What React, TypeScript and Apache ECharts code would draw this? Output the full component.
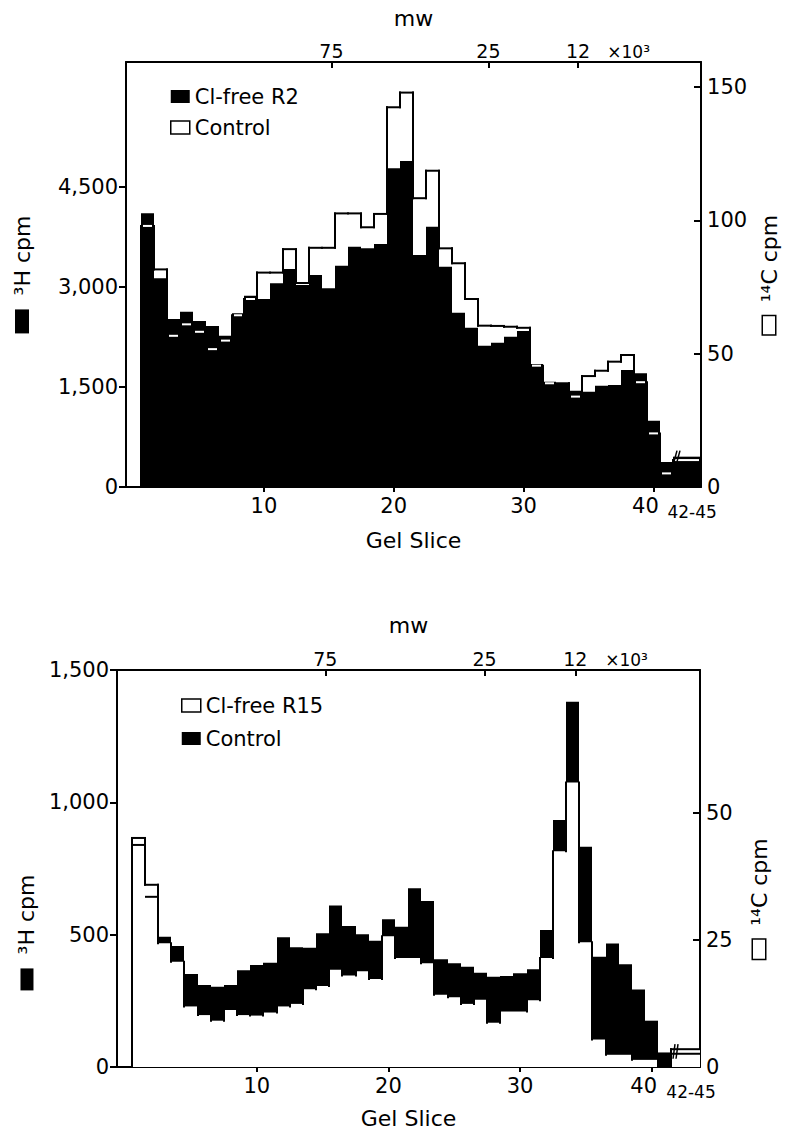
import React, { useEffect, useRef } from 'react';
import * as echarts from 'echarts';

const FONT = "'DejaVu Sans', 'Liberation Sans', sans-serif";

// ---- categories ----
const sliceLabels = ['1','2','3','4','5','6','7','8','9','10','11','12','13','14','15','16','17','18','19','20','21','22','23','24','25','26','27','28','29','30','31','32','33','34','35','36','37','38','39','40','41','42-45'];
const pooledLabel = '42-45';

// ---- top panel: Cl-free R2 (3H, black) vs Control (14C, outline) ----
const topClFreeR2_3H = [4105,3130,2520,2630,2490,2415,2270,2605,2870,2820,3055,3270,3030,3180,2980,3320,3605,3580,3645,4780,4890,3480,3905,3305,2615,2390,2120,2165,2255,2340,1845,1580,1545,1445,1430,1520,1530,1755,1705,995,375,455];
const topControl_14C = [97.9,81.6,56.7,61.0,58.2,51.7,54.9,64.4,70.5,80.4,80.4,89.2,76.5,89.7,89.7,102.6,102.6,97.4,102.4,142.4,147.9,108.3,118.6,89.5,83.9,70.5,60.5,60.4,60.1,59.7,45.5,38.9,38.9,33.9,41.6,43.6,47.0,49.5,39.3,20.1,5.1,10.1];

// ---- bottom panel: Cl-free R15 (14C, white) vs Control (3H, black) ----
const botControl_3H = [839,643,492,457,351,310,303,310,366,385,394,490,452,451,505,610,533,502,477,558,530,675,627,407,392,379,356,341,344,354,369,518,933,1380,832,417,467,388,293,175,55,50];
const botClFreeR15_14C = [45.0,35.8,24.3,20.7,11.9,10.2,9.1,11.2,10.2,10.1,10.7,11.9,12.4,15.3,15.9,19.1,18.0,18.8,17.3,25.7,21.4,21.4,20.4,14.2,13.7,12.4,13.2,8.7,10.9,10.9,13.1,21.4,42.4,55.9,24.5,5.4,2.4,2.4,1.4,1.4,0,3.5];

// ---- tick labels ----
const gelTicks = [10, 20, 30, 40];
const gelLabelPos = [10, 20, 30, 39.4];
const gelLabels = ['10', '20', '30', '40'];
const pooledLabelPos = 43.0;
const mwTicks = [15.2, 27.3, 34.2];
const mwLabels = ['75', '25', '12'];
const mwUnit = '×10³';
const mwUnitPos = 38.1;
const topLeftTicks = [0, 1500, 3000, 4500];
const topRightTicks = [0, 50, 100, 150];
const botLeftTicks = [0, 500, 1000, 1500];
const botRightTicks = [0, 25, 50];

const X_MIN = -0.63;
const X_MAX = 43.68;
const TOP_LEFT_MAX = 6375;
const TOP_RIGHT_MAX = 159.375;
const BOT_LEFT_MAX = 1500;
const BOT_RIGHT_MAX = 78;

function spanOf(label: string): [number, number] {
  if (label === pooledLabel) return [41.5, X_MAX];
  const k = Number(label);
  return [k - 0.5, k + 0.5];
}

const mkData = (vals: number[]) => sliceLabels.map((l, i) => {
  const [s, e] = spanOf(l);
  return [s, e, vals[i]];
});

const BLACK = '#000';
const WHITE = '#fff';

function renderBlack(params: any, api: any) {
  const s = api.value(0), e = api.value(1), v = api.value(2);
  const a = api.coord([s, 0]);
  const b = api.coord([e, v]);
  const x0 = Math.round(a[0]), x1 = Math.round(b[0]);
  return { type: 'rect', shape: { x: x0, y: b[1], width: x1 - x0, height: a[1] - b[1] }, style: { fill: BLACK } };
}

function renderTopControl(params: any, api: any) {
  const i = params.dataIndex;
  const s = api.value(0), e = api.value(1), c = api.value(2);
  const x0 = Math.round(api.coord([s, 0])[0]);
  const x1 = Math.round(api.coord([e, 0])[0]);
  const yc = api.coord([s, c])[1];
  const prev = i > 0 ? topControl_14C[i - 1] : 0;
  const yp = api.coord([s, prev])[1];
  const blackR = topClFreeR2_3H[i] * TOP_RIGHT_MAX / TOP_LEFT_MAX;
  const children: any[] = [];
  children.push({ type: 'line', shape: { x1: x0, y1: yp, x2: x0, y2: yc }, style: { stroke: BLACK, lineWidth: 2, lineCap: 'square' } });
  if (c > blackR) {
    children.push({ type: 'line', shape: { x1: x0, y1: yc, x2: x1, y2: yc }, style: { stroke: BLACK, lineWidth: 2, lineCap: 'square' } });
  } else {
    children.push({ type: 'line', shape: { x1: x0 + 2, y1: yc, x2: x1 - 2, y2: yc }, style: { stroke: WHITE, lineWidth: 2 } });
  }
  if (sliceLabels[i] === pooledLabel) {
    const yb = api.coord([s, blackR])[1];
    children.push({ type: 'line', shape: { x1: x0 + 1, y1: yb + 5, x2: x0 + 4, y2: yb - 6 }, style: { stroke: BLACK, lineWidth: 1.5 } });
    children.push({ type: 'line', shape: { x1: x0 + 4, y1: yb + 5, x2: x0 + 7, y2: yb - 6 }, style: { stroke: BLACK, lineWidth: 1.5 } });
  }
  return { type: 'group', children };
}

function renderBotClFree(params: any, api: any) {
  const i = params.dataIndex;
  const s = api.value(0), e = api.value(1), w = api.value(2);
  const x0 = Math.round(api.coord([s, 0])[0]);
  const x1 = Math.round(api.coord([e, 0])[0]);
  const y0 = api.coord([s, 0])[1];
  const yw = api.coord([s, w])[1];
  const ctrlR = botControl_3H[i] * BOT_RIGHT_MAX / BOT_LEFT_MAX;
  const yc = api.coord([s, ctrlR])[1];
  const prev = i > 0 ? botClFreeR15_14C[i - 1] : 0;
  const yp = api.coord([s, prev])[1];
  const children: any[] = [];
  if (w > 0) {
    children.push({ type: 'rect', shape: { x: x0, y: yw, width: x1 - x0, height: y0 - yw }, style: { fill: WHITE } });
  }
  children.push({ type: 'line', shape: { x1: x0, y1: yp, x2: x0, y2: yw }, style: { stroke: BLACK, lineWidth: 2, lineCap: 'square' } });
  if (w > ctrlR) {
    children.push({ type: 'line', shape: { x1: x0, y1: yw, x2: x1, y2: yw }, style: { stroke: BLACK, lineWidth: 2, lineCap: 'square' } });
    children.push({ type: 'line', shape: { x1: x0, y1: yc, x2: x1, y2: yc }, style: { stroke: BLACK, lineWidth: 2 } });
  }
  if (sliceLabels[i] === pooledLabel) {
    children.push({ type: 'line', shape: { x1: x0 + 2, y1: yc + 5, x2: x0 + 4, y2: yw - 5 }, style: { stroke: BLACK, lineWidth: 1.5 } });
    children.push({ type: 'line', shape: { x1: x0 + 5, y1: yc + 5, x2: x0 + 7, y2: yw - 5 }, style: { stroke: BLACK, lineWidth: 1.5 } });
  }
  return { type: 'group', children };
}

const axisLine = { show: true, onZero: false, lineStyle: { color: BLACK, width: 2 } };
const labelBase = { color: BLACK, fontFamily: FONT, fontSize: 21 };

function gelAxis(gridIndex: number, nameGap: number) {
  return {
    type: 'value', gridIndex, position: 'bottom', min: X_MIN, max: X_MAX,
    axisLine,
    splitLine: { show: false },
    axisTick: { show: true, inside: false, length: 5, customValues: gelTicks, lineStyle: { color: BLACK, width: 2 } },
    axisLabel: {
      ...labelBase, margin: 8, customValues: [...gelLabelPos, pooledLabelPos],
      showMaxLabel: true, showMinLabel: true, hideOverlap: false,
      formatter: (v: number) => {
        if (v > 41) return '{p|' + pooledLabel + '}';
        const idx = gelLabelPos.findIndex((t) => Math.abs(t - v) < 0.05);
        return idx >= 0 ? gelLabels[idx] : '';
      },
      rich: { p: { fontFamily: FONT, fontSize: 17, color: BLACK, padding: [8, 0, 0, 0] } },
    },
    name: 'Gel Slice', nameLocation: 'middle', nameGap,
    nameTextStyle: { color: BLACK, fontFamily: FONT, fontSize: 22 },
  };
}

function mwAxis(gridIndex: number, nameGap: number) {
  return {
    type: 'value', gridIndex, position: 'top', min: X_MIN, max: X_MAX,
    axisLine,
    splitLine: { show: false },
    axisTick: { show: true, inside: true, length: 6, customValues: mwTicks, lineStyle: { color: BLACK, width: 2 } },
    axisLabel: {
      ...labelBase, fontSize: 19, margin: 2, customValues: [...mwTicks, mwUnitPos],
      showMaxLabel: true, hideOverlap: false,
      formatter: (v: number) => {
        const idx = mwTicks.findIndex((t) => Math.abs(t - v) < 0.05);
        return idx >= 0 ? mwLabels[idx] : '{u|' + mwUnit + '}';
      },
      rich: { u: { fontFamily: FONT, fontSize: 17, color: BLACK } },
    },
    name: 'mw', nameLocation: 'middle', nameGap,
    nameTextStyle: { color: BLACK, fontFamily: FONT, fontSize: 22 },
  };
}

function yAxisDef(opts: any) {
  return {
    type: 'value', gridIndex: opts.grid, position: opts.position, min: 0, max: opts.max,
    axisLine,
    splitLine: { show: false },
    axisTick: { show: true, inside: opts.position === 'right', length: 7, customValues: opts.ticks, lineStyle: { color: BLACK, width: 2 } },
    axisLabel: {
      ...labelBase, margin: opts.position === 'right' ? 6 : 8, customValues: opts.ticks,
      formatter: (v: number) => v.toLocaleString('en-US'),
    },
    name: opts.name, nameLocation: 'middle', nameRotate: 90, nameGap: opts.nameGap,
    nameTextStyle: {
      color: BLACK, fontFamily: FONT, fontSize: 22, padding: opts.padding || 0,
      rich: {
        sq: { backgroundColor: BLACK, width: opts.sqW, height: opts.sqH },
        sqw: { backgroundColor: WHITE, borderColor: BLACK, borderWidth: 1.5, width: opts.sqW, height: opts.sqH },
      },
    },
  };
}

export default function App() {
  const ref = useRef<HTMLDivElement>(null);
  useEffect(() => {
    if (!ref.current) return;
    const chart = echarts.init(ref.current, undefined, { renderer: 'svg' });
    const option: any = {
      animation: false,
      backgroundColor: WHITE,
      textStyle: { fontFamily: FONT },
      grid: [
        { left: 126, top: 62, width: 581, height: 425 },
        { left: 117, top: 670, width: 583, height: 397 },
      ],
      xAxis: [gelAxis(0, 42), mwAxis(0, 33), gelAxis(1, 40), mwAxis(1, 34)],
      yAxis: [
        yAxisDef({ grid: 0, position: 'left', max: TOP_LEFT_MAX, ticks: topLeftTicks, name: '{sq| }  ³H cpm', nameGap: 93, sqW: 24, sqH: 14 }),
        yAxisDef({ grid: 0, position: 'right', max: TOP_RIGHT_MAX, ticks: topRightTicks, name: '{sqw| }  ¹⁴C cpm', nameGap: 51, sqW: 18, sqH: 12 }),
        yAxisDef({ grid: 1, position: 'left', max: BOT_LEFT_MAX, ticks: botLeftTicks, name: '{sq| }  ³H cpm', nameGap: 74, sqW: 22, sqH: 13, padding: [0, 128, 0, 0] }),
        yAxisDef({ grid: 1, position: 'right', max: BOT_RIGHT_MAX, ticks: botRightTicks, name: '{sqw| }  ¹⁴C cpm', nameGap: 48, sqW: 19, sqH: 12, padding: [0, 60, 0, 0] }),
      ],
      legend: [
        {
          orient: 'vertical', left: 165, top: 81, itemWidth: 19, itemHeight: 13, itemGap: 10,
          selectedMode: false,
          textStyle: { color: BLACK, fontFamily: FONT, fontSize: 21, lineHeight: 21 },
          data: [
            { name: 'Cl-free R2', icon: 'rect', itemStyle: { color: BLACK, borderWidth: 0 } },
            { name: 'Control', icon: 'rect', itemStyle: { color: WHITE, borderColor: BLACK, borderWidth: 1.5 } },
          ],
        },
        {
          orient: 'vertical', left: 176, top: 690, itemWidth: 19, itemHeight: 13, itemGap: 12,
          selectedMode: false,
          textStyle: { color: BLACK, fontFamily: FONT, fontSize: 21, lineHeight: 21 },
          data: [
            { name: 'Cl-free R15', icon: 'rect', itemStyle: { color: WHITE, borderColor: BLACK, borderWidth: 1.5 } },
            { name: 'Control ', icon: 'rect', itemStyle: { color: BLACK, borderWidth: 0 } },
          ],
        },
      ],
      series: [
        {
          name: 'Cl-free R2', type: 'custom', xAxisIndex: 0, yAxisIndex: 0, silent: true,
          itemStyle: { color: BLACK },
          encode: { x: [0, 1], y: 2 },
          renderItem: renderBlack, data: mkData(topClFreeR2_3H),
        },
        {
          name: 'Control', type: 'custom', xAxisIndex: 0, yAxisIndex: 1, silent: true,
          itemStyle: { color: WHITE, borderColor: BLACK, borderWidth: 1.5 },
          encode: { x: [0, 1], y: 2 },
          renderItem: renderTopControl, data: mkData(topControl_14C),
        },
        {
          name: 'Control ', type: 'custom', xAxisIndex: 2, yAxisIndex: 2, silent: true,
          itemStyle: { color: BLACK },
          encode: { x: [0, 1], y: 2 },
          renderItem: renderBlack, data: mkData(botControl_3H),
        },
        {
          name: 'Cl-free R15', type: 'custom', xAxisIndex: 2, yAxisIndex: 3, silent: true,
          itemStyle: { color: WHITE, borderColor: BLACK, borderWidth: 1.5 },
          encode: { x: [0, 1], y: 2 },
          renderItem: renderBotClFree, data: mkData(botClFreeR15_14C),
        },
      ],
    };
    chart.setOption(option);
    return () => chart.dispose();
  }, []);
  return <div ref={ref} style={{ position: 'absolute', left: 0, top: 0, width: 788, height: 1135 }} />;
}
